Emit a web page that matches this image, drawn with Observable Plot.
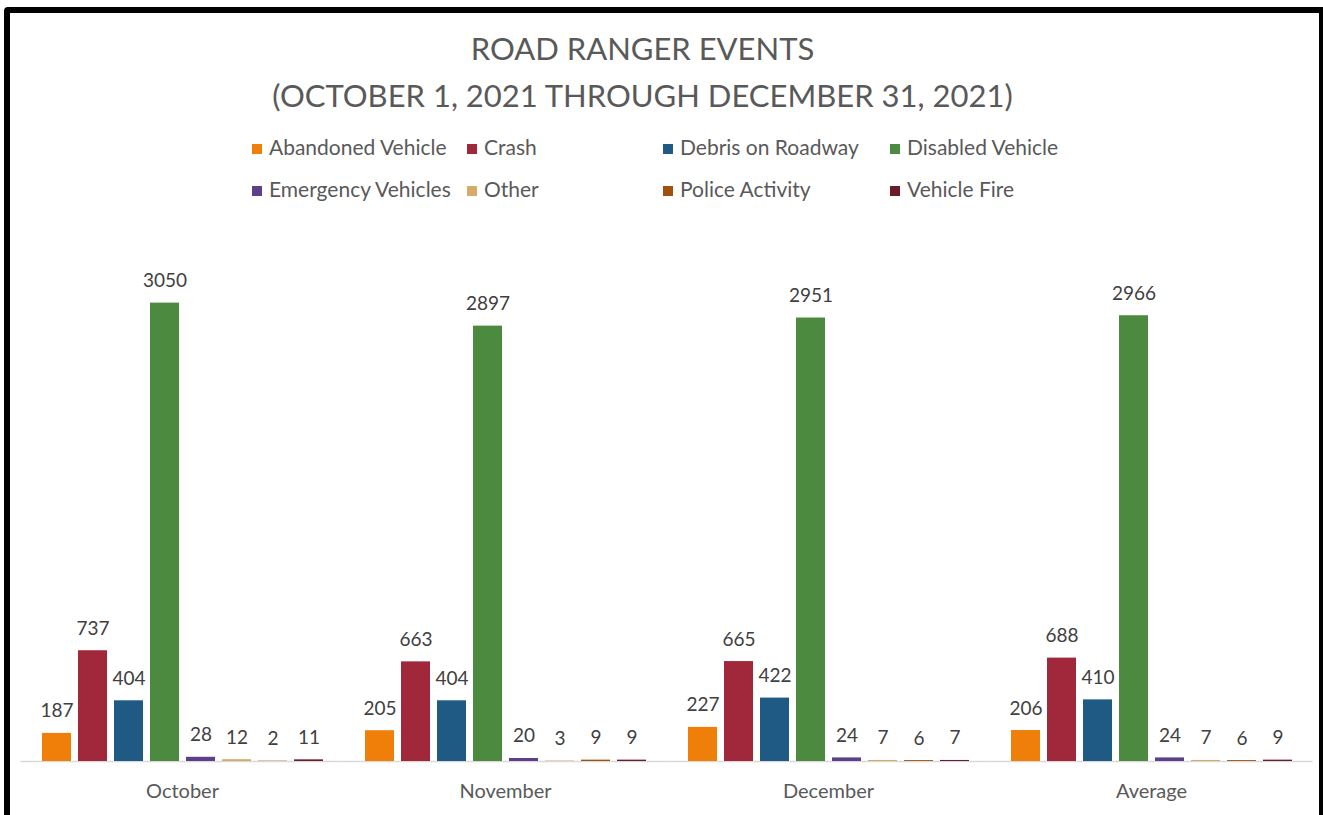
<!DOCTYPE html>
<html>
<head>
<meta charset="utf-8">
<script src="https://cdn.jsdelivr.net/npm/d3@7"></script>
<script src="https://cdn.jsdelivr.net/npm/@observablehq/plot@0.6"></script>
<style>
  html, body { margin: 0; padding: 0; background: #fff; width: 1323px; height: 815px; overflow: hidden; }
  #wrap { position: relative; width: 1323px; height: 815px; font-family: Lato, "Open Sans", sans-serif; }
  #border { position: absolute; left: 4px; top: 7px; width: 1321px; height: 900px; box-sizing: border-box; border: 6px solid #000; border-top-left-radius: 4px; }
  .title { position: absolute; left: 0; width: 1285px; text-align: center; color: #595959; font-size: 31px; white-space: nowrap; }
  .leg { position: absolute; font-size: 21px; color: #595959; white-space: nowrap; line-height: 22px; }
  .leg span.sw { display: inline-block; width: 10px; height: 10px; margin-right: 7px; vertical-align: 1px; }
  #chart { position: absolute; left: 0; top: 200px; }
</style>
</head>
<body>
<div id="wrap">
  <div id="border"></div>
  <div class="title" id="t1" style="top:29px"></div>
  <div class="title" id="t2" style="top:76px"></div>
  <div id="legend"></div>
  <div id="chart"></div>
</div>
<script>
const titleLines = ["ROAD RANGER EVENTS", "(OCTOBER 1, 2021 THROUGH DECEMBER 31, 2021)"];
const months = ["October", "November", "December", "Average"];
const series = ["Abandoned Vehicle", "Crash", "Debris on Roadway", "Disabled Vehicle",
                "Emergency Vehicles", "Other", "Police Activity", "Vehicle Fire"];
const colors = ["#F07F09", "#A0283A", "#1F5A84", "#4C8A3F", "#5E408A", "#D4AC68", "#A0510D", "#6B1C2C"];
const abandonedVehicle = [187, 205, 227, 206];
const crash = [737, 663, 665, 688];
const debrisOnRoadway = [404, 404, 422, 410];
const disabledVehicle = [3050, 2897, 2951, 2966];
const emergencyVehicles = [28, 20, 24, 24];
const other = [12, 3, 7, 7];
const policeActivity = [2, 9, 6, 6];
const vehicleFire = [11, 9, 7, 9];

const valuesBySeries = [abandonedVehicle, crash, debrisOnRoadway, disabledVehicle,
                        emergencyVehicles, other, policeActivity, vehicleFire];
const rows = [];
months.forEach((m, i) => series.forEach((s, j) => rows.push({month: m, series: s, value: valuesBySeries[j][i]})));

document.getElementById("t1").textContent = titleLines[0];
document.getElementById("t2").textContent = titleLines[1];

// legend: 2 rows x 4 columns
const legX = [252, 467, 663, 890];
const legY = [136, 178];
const leg = document.getElementById("legend");
series.forEach((s, j) => {
  const d = document.createElement("div");
  d.className = "leg";
  d.style.left = legX[j % 4] + "px";
  d.style.top = legY[Math.floor(j / 4)] + "px";
  const sw = document.createElement("span");
  sw.className = "sw";
  sw.style.background = colors[j];
  d.appendChild(sw);
  d.appendChild(document.createTextNode(s));
  leg.appendChild(d);
});

const chart = Plot.plot({
  width: 1323,
  height: 615,
  marginLeft: 20,
  marginRight: 11,
  marginTop: 35,
  marginBottom: 54,
  style: {fontFamily: "Lato, 'Open Sans', sans-serif", fontSize: "20px", color: "#595959", background: "transparent"},
  fx: {domain: months, paddingInner: 0.084, paddingOuter: 0.042, label: null, axis: "bottom", tickSize: 0, tickPadding: 22},
  x: {domain: series, padding: 0.2, axis: null},
  y: {domain: [0, 3500], axis: null},
  color: {domain: series, range: colors},
  marks: [
    Plot.ruleY([0], {stroke: "#d9d9d9", strokeWidth: 1.5, insetLeft: -13.6, insetRight: -13.6}),
    Plot.barY(rows, {fx: "month", x: "series", y: "value", fill: "series"}),
    Plot.text(rows, {fx: "month", x: "series", y: "value", text: d => String(d.value),
      lineAnchor: "bottom", dy: -16, fill: "#404040", fontSize: 19})
  ]
});
document.getElementById("chart").appendChild(chart);
</script>
</body>
</html>
